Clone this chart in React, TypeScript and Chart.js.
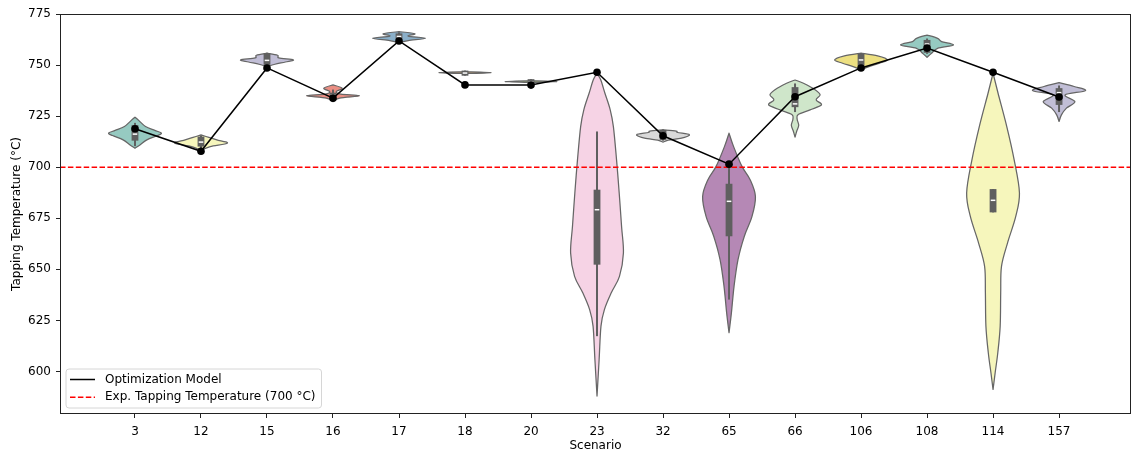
import React, { useEffect, useRef } from 'react';
import { Chart, registerables } from 'chart.js';

Chart.register(...registerables);

// ---------------- data ----------------
const SCENARIOS = ['3', '12', '15', '16', '17', '18', '20', '23', '32', '65', '66', '106', '108', '114', '157'];
const MODEL_TEMPS = [718.8, 707.8, 748.6, 733.8, 761.8, 740.3, 740.2, 746.5, 715.4, 701.5, 734.5, 748.6, 758.3, 746.5, 734.4];
const EXP_TEMP = 700;
const Y_TICKS = [600, 625, 650, 675, 700, 725, 750, 775];
const MODEL_LABEL = 'Optimization Model';
const EXP_LABEL = `Exp. Tapping Temperature (${EXP_TEMP} °C)`;
const X_TITLE = 'Scenario';
const Y_TITLE = 'Tapping Temperature (°C)';

// violin profiles: temperature levels (ascending) and relative density (1 = widest)
const VIOLIN_LEVELS: number[][] = [
  [709.3, 711.0, 713.4, 715.5, 716.7, 718.0, 719.9, 722.8, 724.5],
  [708.3, 710.1, 711.8, 713.4, 714.6, 715.8],
  [749.2, 750.4, 751.5, 752.5, 753.5, 754.8, 755.8],
  [732.1, 733.8, 734.9, 735.8, 737.0, 738.7, 740.3],
  [761.0, 762.0, 763.1, 764.2, 765.3, 766.4],
  [745.9, 746.3, 746.7],
  [741.5, 741.9, 742.3],
  [588.0, 605.9, 622.2, 630.3, 638.5, 646.6, 658.0, 671.0, 687.4, 703.6, 719.9, 728.1, 736.2, 742.8, 746.0],
  [712.3, 713.3, 714.2, 715.9, 717.0, 717.7, 718.3],
  [619.0, 628.7, 641.7, 654.8, 666.2, 675.9, 685.7, 693.9, 700.4, 710.2, 716.7],
  [714.7, 717.5, 720.5, 723.5, 725.8, 728.1, 730.5, 733.0, 735.4, 737.9, 741.1, 742.7],
  [747.6, 749.2, 750.9, 752.5, 754.5, 755.8],
  [753.8, 755.8, 758.2, 759.8, 761.5, 763.1, 764.7],
  [591.2, 599.4, 609.2, 622.2, 638.5, 651.5, 663.0, 675.9, 687.4, 703.6, 719.9, 736.2, 746.0],
  [722.4, 725.6, 728.9, 732.1, 735.4, 737.5, 739.5, 741.4],
];
const VIOLIN_DENSITY: number[][] = [
  [0, 0.2, 0.45, 0.85, 1.0, 0.75, 0.4, 0.15, 0],
  [0, 0.35, 1.0, 0.6, 0.3, 0],
  [0, 0.3, 0.7, 1.0, 0.45, 0.4, 0],
  [0, 0.25, 1.0, 0.3, 0.12, 0.35, 0],
  [0, 0.35, 1.0, 0.35, 0.6, 0],
  [0, 1.0, 0],
  [0, 1.0, 0],
  [0, 0.08, 0.15, 0.28, 0.54, 0.85, 1.0, 0.93, 0.84, 0.74, 0.62, 0.5, 0.3, 0.14, 0],
  [0, 0.2, 0.7, 1.0, 0.55, 0.5, 0],
  [0, 0.09, 0.19, 0.34, 0.58, 0.87, 1.0, 0.8, 0.49, 0.17, 0],
  [0, 0.06, 0.14, 0.08, 0.12, 0.57, 1.0, 0.8, 0.95, 0.76, 0.32, 0],
  [0, 0.3, 0.7, 1.0, 0.63, 0],
  [0, 0.17, 0.4, 1.0, 0.55, 0.4, 0],
  [0, 0.08, 0.18, 0.27, 0.29, 0.32, 0.55, 0.86, 1.0, 0.8, 0.52, 0.19, 0],
  [0, 0.09, 0.28, 0.6, 0.23, 1.0, 0.57, 0],
];
const WHISKER_LOW = [710.3, 709.0, 749.5, 733.0, 761.5, 744.8, 740.4, 617.3, 713.0, 635.2, 727.0, 749.0, 755.5, 677.9, 727.0];
const BOX_Q1 = [713.0, 710.1, 750.1, 734.0, 762.5, 744.8, 740.4, 652.3, 713.4, 666.2, 729.4, 749.5, 756.0, 677.9, 730.5];
const BOX_MEDIAN = [716.2, 712.3, 752.3, 735.3, 764.0, 746.1, 741.7, 679.2, 715.8, 683.3, 731.0, 752.5, 760.3, 683.8, 736.5];
const BOX_Q3 = [720.6, 715.0, 755.8, 736.5, 765.5, 747.3, 743.1, 689.0, 718.3, 691.9, 739.2, 755.5, 762.3, 689.3, 738.7];
const WHISKER_HIGH = [721.7, 715.6, 756.0, 738.0, 766.0, 747.3, 743.1, 717.5, 718.5, 702.0, 741.0, 755.8, 763.0, 689.3, 740.0];

// ---------------- styles ----------------
const SET3 = ['#8dd3c7', '#ffffb3', '#bebada', '#fb8072', '#80b1d3', '#fdb462', '#b3de69', '#fccde5', '#d9d9d9', '#bc80bd', '#ccebc5', '#ffed6f'];
const FONT = '"DejaVu Sans", sans-serif';
const FONT_SIZE = 12;

function desaturate(hex: string, prop: number): string {
  const r = parseInt(hex.slice(1, 3), 16) / 255;
  const g = parseInt(hex.slice(3, 5), 16) / 255;
  const b = parseInt(hex.slice(5, 7), 16) / 255;
  const mx = Math.max(r, g, b), mn = Math.min(r, g, b);
  const l = (mx + mn) / 2;
  let h = 0, s = 0;
  if (mx !== mn) {
    const d = mx - mn;
    s = l <= 0.5 ? d / (mx + mn) : d / (2 - mx - mn);
    if (mx === r) h = ((g - b) / d) / 6;
    else if (mx === g) h = (2 + (b - r) / d) / 6;
    else h = (4 + (r - g) / d) / 6;
    if (h < 0) h += 1;
  }
  s *= prop;
  const hue = (m1: number, m2: number, hh: number) => {
    hh = ((hh % 1) + 1) % 1;
    if (hh < 1 / 6) return m1 + (m2 - m1) * hh * 6;
    if (hh < 0.5) return m2;
    if (hh < 2 / 3) return m1 + (m2 - m1) * (2 / 3 - hh) * 6;
    return m1;
  };
  let rr, gg, bb;
  if (s === 0) { rr = gg = bb = l; } else {
    const m2 = l <= 0.5 ? l * (1 + s) : l + s - l * s;
    const m1 = 2 * l - m2;
    rr = hue(m1, m2, h + 1 / 3); gg = hue(m1, m2, h); bb = hue(m1, m2, h - 1 / 3);
  }
  const to = (v: number) => Math.round(v * 255).toString(16).padStart(2, '0');
  return '#' + to(rr) + to(gg) + to(bb);
}

function spline(ctx: CanvasRenderingContext2D, pts: number[][], move: boolean) {
  if (move) ctx.moveTo(pts[0][0], pts[0][1]);
  else ctx.lineTo(pts[0][0], pts[0][1]);
  for (let i = 0; i < pts.length - 1; i++) {
    const p0 = pts[i - 1] || pts[i];
    const p1 = pts[i];
    const p2 = pts[i + 1];
    const p3 = pts[i + 2] || pts[i + 1];
    const c1x = p1[0] + (p2[0] - p0[0]) / 6;
    const c1y = p1[1] + (p2[1] - p0[1]) / 6;
    const c2x = p2[0] - (p3[0] - p1[0]) / 6;
    const c2y = p2[1] - (p3[1] - p1[1]) / 6;
    ctx.bezierCurveTo(c1x, c1y, c2x, c2y, p2[0], p2[1]);
  }
}

const violinPlugin = {
  id: 'violins',
  beforeDatasetsDraw(chart: any) {
    const { ctx, chartArea, scales } = chart;
    const xs = scales.x, ys = scales.y;
    ctx.save();
    ctx.beginPath();
    ctx.rect(chartArea.left, chartArea.top, chartArea.right - chartArea.left, chartArea.bottom - chartArea.top);
    ctx.clip();
    SCENARIOS.forEach((_, i) => {
      const cx = xs.getPixelForValue(i);
      const half = xs.getPixelForValue(i + 0.4) - cx;
      const lv = VIOLIN_LEVELS[i], dn = VIOLIN_DENSITY[i];
      const right = lv.map((v, k) => [cx + dn[k] * half, ys.getPixelForValue(v)]);
      const left = lv.map((v, k) => [cx - dn[k] * half, ys.getPixelForValue(v)]).reverse();
      ctx.beginPath();
      spline(ctx, right, true);
      spline(ctx, left, false);
      ctx.closePath();
      ctx.fillStyle = desaturate(SET3[i % SET3.length], 0.75);
      ctx.fill();
      ctx.lineWidth = 1.25;
      ctx.strokeStyle = '#666666';
      ctx.lineJoin = 'round';
      ctx.stroke();
      // inner box
      const gray = '#5f5f5f';
      ctx.lineCap = 'butt';
      ctx.strokeStyle = gray;
      ctx.lineWidth = 2;
      ctx.beginPath();
      ctx.moveTo(cx, ys.getPixelForValue(WHISKER_LOW[i]));
      ctx.lineTo(cx, ys.getPixelForValue(WHISKER_HIGH[i]));
      ctx.stroke();
      const q1 = ys.getPixelForValue(BOX_Q1[i]);
      const q3 = ys.getPixelForValue(BOX_Q3[i]);
      ctx.fillStyle = gray;
      ctx.fillRect(cx - 3.4, q3, 6.8, q1 - q3);
      const md = ys.getPixelForValue(BOX_MEDIAN[i]);
      ctx.fillStyle = '#ffffff';
      ctx.fillRect(cx - 2.3, md - 0.75, 4.6, 1.5);
    });
    // expected temperature reference line
    const yr = ys.getPixelForValue(EXP_TEMP);
    ctx.beginPath();
    ctx.setLineDash([5.5, 2.4]);
    ctx.strokeStyle = '#ff0000';
    ctx.lineWidth = 1.5;
    ctx.moveTo(chartArea.left, yr);
    ctx.lineTo(chartArea.right, yr);
    ctx.stroke();
    ctx.setLineDash([]);
    ctx.restore();
  },
  afterDraw(chart: any) {
    const { ctx, chartArea } = chart;
    ctx.save();
    // frame
    ctx.strokeStyle = '#222222';
    ctx.lineWidth = 1;
    ctx.strokeRect(chartArea.left + 0.5, chartArea.top + 0.5, chartArea.right - chartArea.left - 1, chartArea.bottom - chartArea.top - 1);
    // legend
    ctx.font = `${FONT_SIZE}px ${FONT}`;
    const tw = Math.max(ctx.measureText(MODEL_LABEL).width, ctx.measureText(EXP_LABEL).width);
    const fx = chartArea.left + 6;
    const fh = 39;
    const fy = chartArea.bottom - 6 - fh;
    const fw = 39 + tw + 6;
    const r = 3;
    ctx.beginPath();
    ctx.moveTo(fx + r, fy);
    ctx.arcTo(fx + fw, fy, fx + fw, fy + fh, r);
    ctx.arcTo(fx + fw, fy + fh, fx, fy + fh, r);
    ctx.arcTo(fx, fy + fh, fx, fy, r);
    ctx.arcTo(fx, fy, fx + fw, fy, r);
    ctx.closePath();
    ctx.fillStyle = 'rgba(255,255,255,0.8)';
    ctx.fill();
    ctx.strokeStyle = '#d6d6d6';
    ctx.lineWidth = 1;
    ctx.stroke();
    const rows = [
      { label: MODEL_LABEL, color: '#000000', dash: [] as number[] },
      { label: EXP_LABEL, color: '#ff0000', dash: [5.5, 2.4] },
    ];
    rows.forEach((row, k) => {
      const yy = fy + 10.5 + k * 17.7;
      ctx.beginPath();
      ctx.setLineDash(row.dash);
      ctx.strokeStyle = row.color;
      ctx.lineWidth = 1.5;
      ctx.moveTo(fx + 4, yy);
      ctx.lineTo(fx + 29, yy);
      ctx.stroke();
      ctx.setLineDash([]);
      ctx.fillStyle = '#000000';
      ctx.textBaseline = 'middle';
      ctx.textAlign = 'left';
      ctx.fillText(row.label, fx + 39, yy);
    });
    ctx.restore();
  },
};

export default function App() {
  const ref = useRef<HTMLCanvasElement | null>(null);
  useEffect(() => {
    document.body.style.margin = '0';
    Chart.defaults.font.family = FONT;
    Chart.defaults.font.size = FONT_SIZE;
    Chart.defaults.color = '#000000';
    const chart = new Chart(ref.current as HTMLCanvasElement, {
      type: 'line',
      data: {
        datasets: [
          {
            label: MODEL_LABEL,
            data: MODEL_TEMPS.map((v, i) => ({ x: i, y: v })),
            borderColor: '#000000',
            backgroundColor: '#000000',
            borderWidth: 1.5,
            pointRadius: 3.8,
            pointBackgroundColor: '#000000',
            pointBorderWidth: 0,
            tension: 0,
          },
        ],
      },
      options: {
        responsive: false,
        animation: false,
        layout: { autoPadding: false, padding: { top: 14, right: 1, left: 0, bottom: 0 } },
        plugins: { legend: { display: false }, tooltip: { enabled: false } },
        scales: {
          x: {
            type: 'linear',
            min: -1.136,
            max: 15.09,
            afterBuildTicks: (s: any) => { s.ticks = SCENARIOS.map((_, i) => ({ value: i })); },
            afterFit: (s: any) => { s.height = 37; },
            ticks: {
              autoSkip: false,
              maxRotation: 0,
              padding: 6.5,
              callback: (v: any) => SCENARIOS[Math.round(Number(v))],
            },
            grid: { drawOnChartArea: false, drawTicks: true, tickLength: 4, tickColor: '#222222' },
            border: { display: false },
            title: { display: true, text: X_TITLE, padding: { top: 0, bottom: 0 }, font: { size: FONT_SIZE, lineHeight: 0.8 } },
          },
          y: {
            type: 'linear',
            min: 579.2,
            max: 775,
            afterBuildTicks: (s: any) => { s.ticks = Y_TICKS.map((v) => ({ value: v })); },
            afterFit: (s: any) => { s.width = 60; },
            ticks: { padding: 5 },
            grid: { drawOnChartArea: false, drawTicks: true, tickLength: 4, tickColor: '#222222' },
            border: { display: false },
            title: { display: true, text: Y_TITLE, padding: { top: 10, bottom: 0 }, font: { size: FONT_SIZE } },
          },
        },
      },
      plugins: [violinPlugin],
    });
    return () => chart.destroy();
  }, []);
  return (
    <div style={{ width: 1132, height: 451 }}>
      <canvas ref={ref} width={1132} height={451} />
    </div>
  );
}
